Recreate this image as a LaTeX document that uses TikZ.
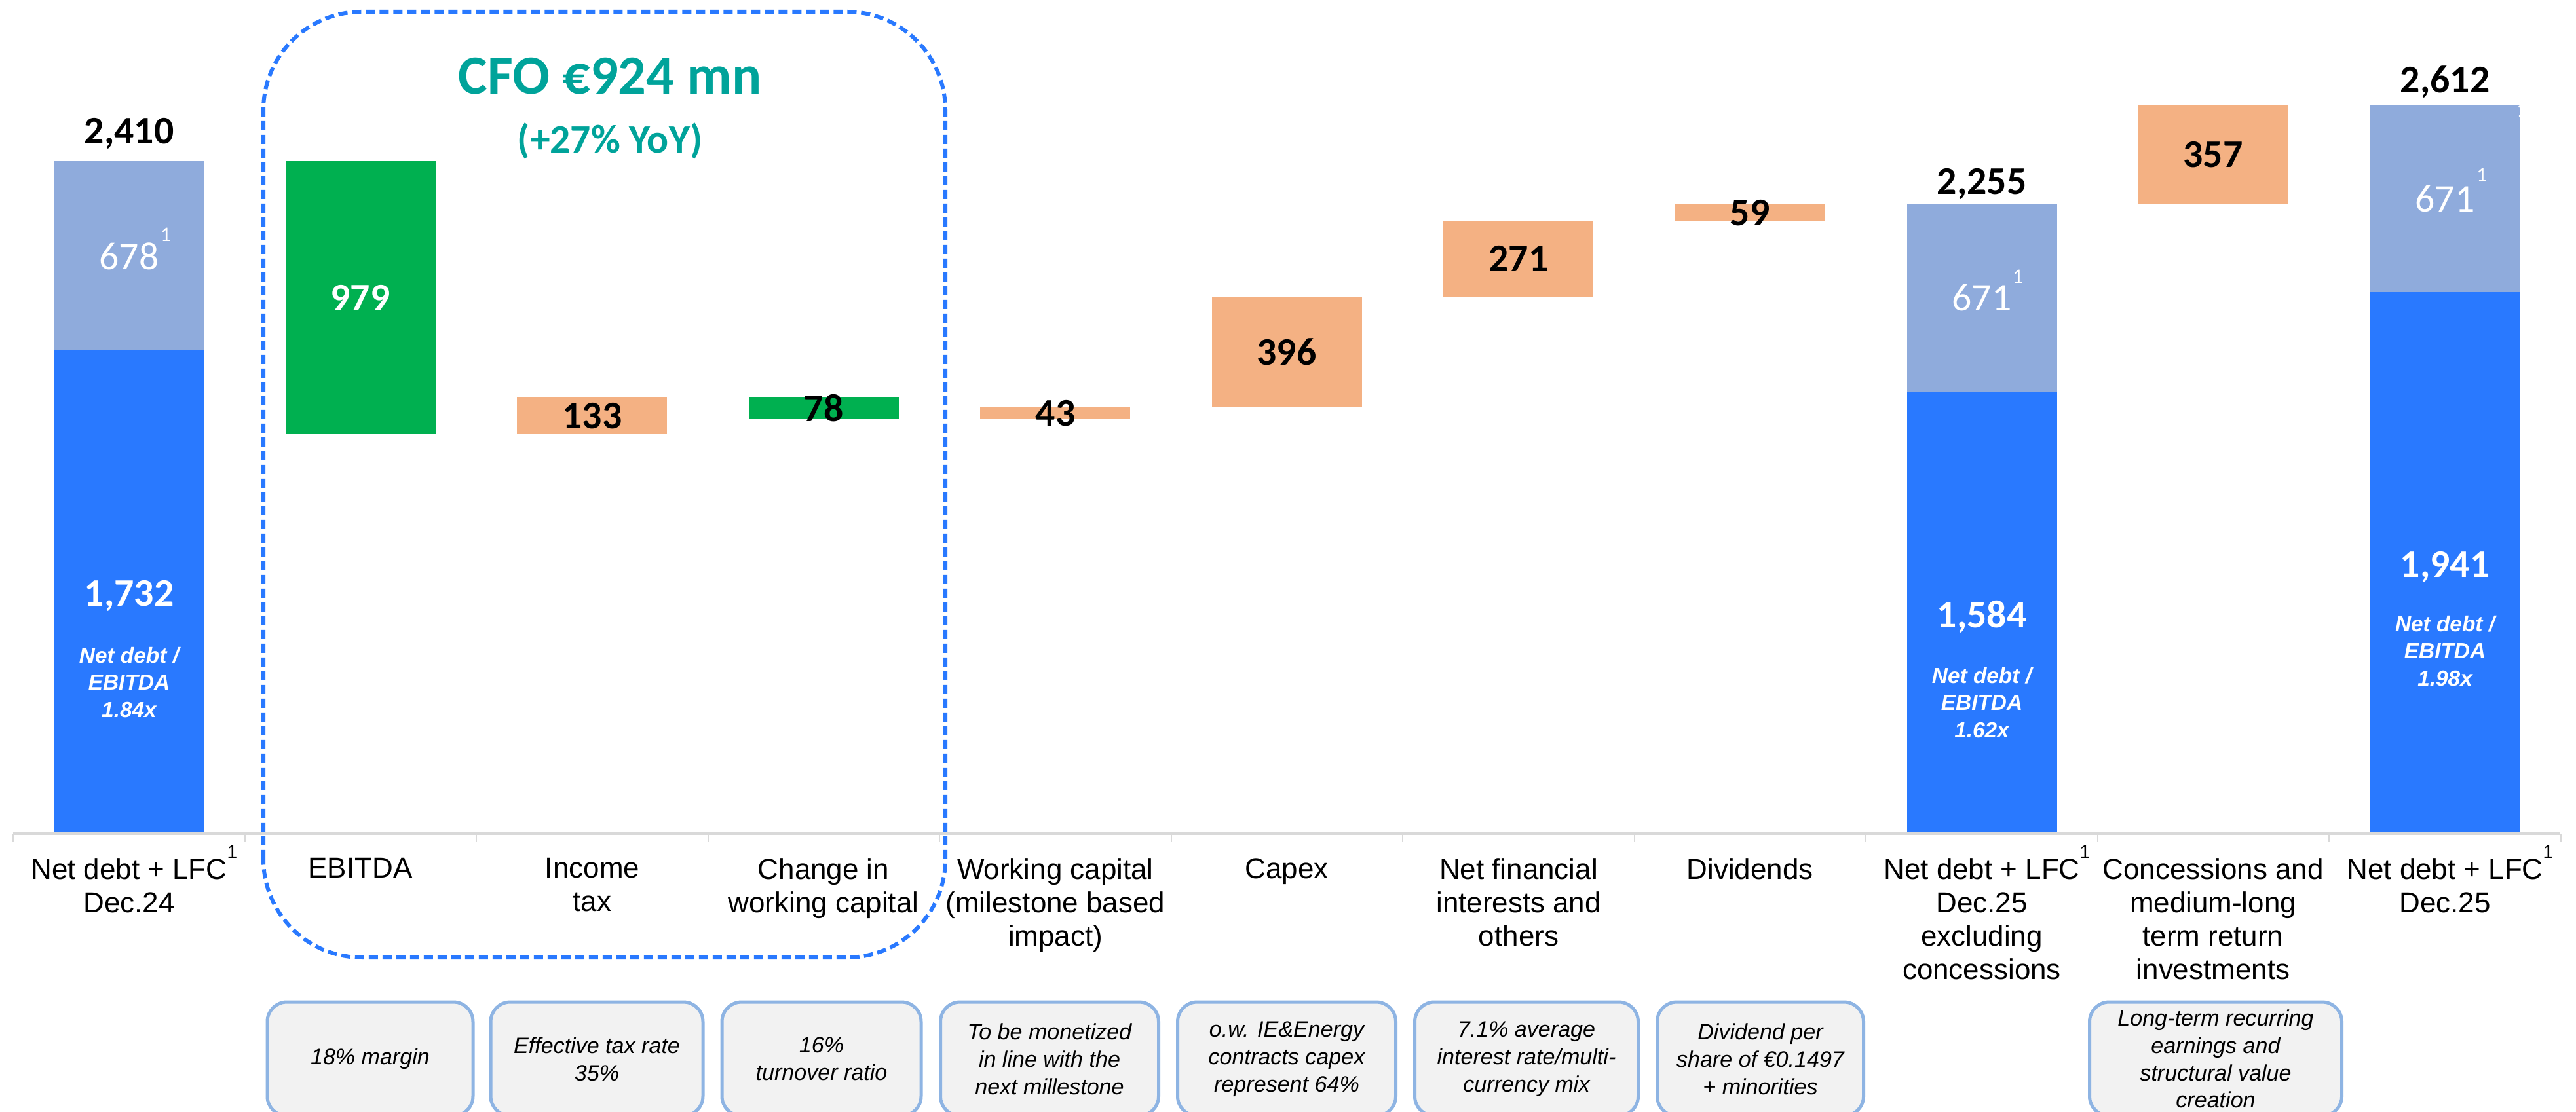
\documentclass[tikz,border=0pt]{standalone}
\usepackage{fontspec}
\setmainfont{Liberation Sans}
\newfontfamily\numfont{Carlito}
\usepackage{tikz}
\usetikzlibrary{positioning}
\definecolor{azure}{RGB}{41, 121, 255}
\definecolor{softazure}{RGB}{143, 171, 220}
\definecolor{jade}{RGB}{0, 176, 80}
\definecolor{apricot}{RGB}{244, 177, 131}
\definecolor{lagoon}{RGB}{0, 163, 154}
\definecolor{mist}{RGB}{242, 242, 242}
\definecolor{skyline}{RGB}{142, 180, 227}
\definecolor{axisgray}{RGB}{217, 217, 217}
\newcommand{\supone}{\rlap{\smash{\raisebox{0.32cm}{\fontsize{8}{8}\selectfont 1}}}}
\tikzset{
  num/.style={inner sep=0pt, text depth=0pt, font=\numfont\bfseries\fontsize{17}{17}\selectfont},
  numw/.style={num, text=white},
  numlight/.style={inner sep=0pt, text=white, font=\numfont\fontsize{17}{17}\selectfont},
  supw/.style={inner sep=0pt, text=white, font=\numfont\fontsize{9}{9}\selectfont},
  ratio/.style={inner sep=0pt, align=center, text=white, font=\bfseries\itshape\fontsize{9.5}{11.8}\selectfont},
  cat/.style={anchor=north, inner sep=0pt, align=center, font=\fontsize{12.5}{14.5}\selectfont},
  note/.style={draw=skyline, fill=mist, line width=0.05cm, rounded corners=0.3cm, minimum height=1.74cm,
               inner sep=0pt, align=center, font=\itshape\fontsize{9.7}{11.9}\selectfont}
}

\begin{document}
\begin{tikzpicture}
            \useasboundingbox (0.00, 0.00) rectangle (39.32,16.97);
            % stacked bars
            \fill[azure]      ( 0.83, 4.24) rectangle ( 3.11,11.62);
            \fill[softazure]  ( 0.83,11.62) rectangle ( 3.11,14.51);
            \fill[azure]      (29.11, 4.24) rectangle (31.40,10.99);
            \fill[softazure]  (29.11,10.99) rectangle (31.40,13.85);
            \fill[azure]      (36.18, 4.24) rectangle (38.47,12.51);
            \fill[softazure]  (36.18,12.51) rectangle (38.47,15.37);
            % floating bars
            \fill[jade]       ( 4.36,10.34) rectangle ( 6.65,14.51);
            \fill[apricot]    ( 7.89,10.34) rectangle (10.18,10.91);
            \fill[jade]       (11.43,10.57) rectangle (13.72,10.91);
            \fill[apricot]    (14.96,10.57) rectangle (17.25,10.76);
            \fill[apricot]    (18.50,10.76) rectangle (20.79,12.44);
            \fill[apricot]    (22.03,12.44) rectangle (24.32,13.60);
            \fill[apricot]    (25.57,13.60) rectangle (27.86,13.85);
            \fill[apricot]    (32.64,13.85) rectangle (34.93,15.37);
            % axis
            \draw[axisgray, line width=0.035cm] (0.20,4.24) -- (39.08,4.24);
            \foreach \k in {0,...,11}
                \draw[axisgray, line width=0.02cm] (0.20+3.535*\k,4.24) -- ++(0,-0.13);
            % values
            \node[num]       (tot24)  at ( 1.97,14.97) {2,410};
            \node[numlight]  (lfc24)  at ( 1.97,13.06) {678};
            \node[supw]      (sup24)  at ( 2.53,13.39) {1};
            \node[numw]      (nd24)   at ( 1.97, 7.91) {1,732};
            \node[ratio]     (rt24)   at ( 1.97, 6.55) {Net debt /\\EBITDA\\1.84x};
            \node[numw]      (ebitda) at ( 5.50,12.42) {979};
            \node[num]       (tax)    at ( 9.04,10.62) {133};
            \node[num]       (chwc)   at (12.57,10.74) {78};
            \node[num]       (wcms)   at (16.11,10.66) {43};
            \node[num]       (capex)  at (19.64,11.60) {396};
            \node[num]       (fin)    at (23.18,13.02) {271};
            \node[num]       (div)    at (26.71,13.72) {59};
            \node[num]       (tot25x) at (30.25,14.20) {2,255};
            \node[numlight]  (lfc25x) at (30.25,12.42) {671};
            \node[supw]      (sup25x) at (30.80,12.75) {1};
            \node[numw]      (nd25x)  at (30.25, 7.59) {1,584};
            \node[ratio]     (rt25x)  at (30.25, 6.24) {Net debt /\\EBITDA\\1.62x};
            \node[num]       (conc)   at (33.78,14.61) {357};
            \node[num]       (tot25)  at (37.32,15.76) {2,612};
            \node[numlight]  (lfc25)  at (37.32,13.93) {671};
            \node[supw]      (sup25)  at (37.88,14.30) {1};
            \node[supw]      (edge25) at (38.49,15.29) {1};
            \node[numw]      (nd25)   at (37.32, 8.35) {1,941};
            \node[ratio]     (rt25)   at (37.32, 7.03) {Net debt /\\EBITDA\\1.98x};
            % CFO frame
            \draw[azure, line width=0.06cm, dash pattern=on 0.14cm off 0.07cm, rounded corners=1.5cm]
                 (4.02,2.35) rectangle (14.43,16.79);
            \node[text=lagoon, inner sep=0pt, font=\numfont\bfseries\fontsize{24}{24}\selectfont]
                 (cfo) at (9.31,15.81) {CFO €924 mn};
            \node[text=lagoon, inner sep=0pt, font=\numfont\bfseries\fontsize{17.5}{17.5}\selectfont]
                 (yoy) at (9.31,14.82) {(+27\% YoY)};
            % categories
            \node[cat] (c0)  at ( 1.97,3.87) {Net debt + LFC\supone\\Dec.24};
            \node[cat] (c1)  at ( 5.50,3.87) {EBITDA};
            \node[cat] (c2)  at ( 9.04,3.87) {Income\\tax};
            \node[cat] (c3)  at (12.57,3.87) {Change in\\working capital};
            \node[cat] (c4)  at (16.11,3.87) {Working capital\\(milestone based\\impact)};
            \node[cat] (c5)  at (19.64,3.87) {Capex};
            \node[cat] (c6)  at (23.18,3.87) {Net financial\\interests and\\others};
            \node[cat] (c7)  at (26.71,3.87) {Dividends};
            \node[cat] (c8)  at (30.25,3.87) {Net debt + LFC\supone\\Dec.25\\excluding\\concessions};
            \node[cat] (c9)  at (33.78,3.87) {Concessions and\\medium-long\\term return\\investments};
            \node[cat] (c10) at (37.32,3.87) {Net debt + LFC\supone\\Dec.25};
            % notes
            \node[note, minimum width=3.14cm] (n1) at ( 5.65,0.80) {18\% margin};
            \node[note, minimum width=3.24cm] (n2) at ( 9.11,0.80) {Effective tax rate\\35\%};
            \node[note, minimum width=3.04cm] (n3) at (12.54,0.80) {16\%\\turnover ratio};
            \node[note, minimum width=3.33cm] (n4) at (16.02,0.80) {To be monetized\\in line with the\\next millestone};
            \node[note, minimum width=3.33cm] (n5) at (19.64,0.80) {o.w. IE\&Energy\\contracts capex\\represent 64\%};
            \node[note, minimum width=3.41cm] (n6) at (23.30,0.80) {7.1\% average\\interest rate/multi-\\currency mix};
            \node[note, minimum width=3.15cm] (n7) at (26.87,0.80) {Dividend per\\share of €0.1497\\+ minorities};
            \node[note, minimum width=3.85cm] (n9) at (33.82,0.80) {Long-term recurring\\earnings and\\structural value\\creation};
\end{tikzpicture}
\end{document}
